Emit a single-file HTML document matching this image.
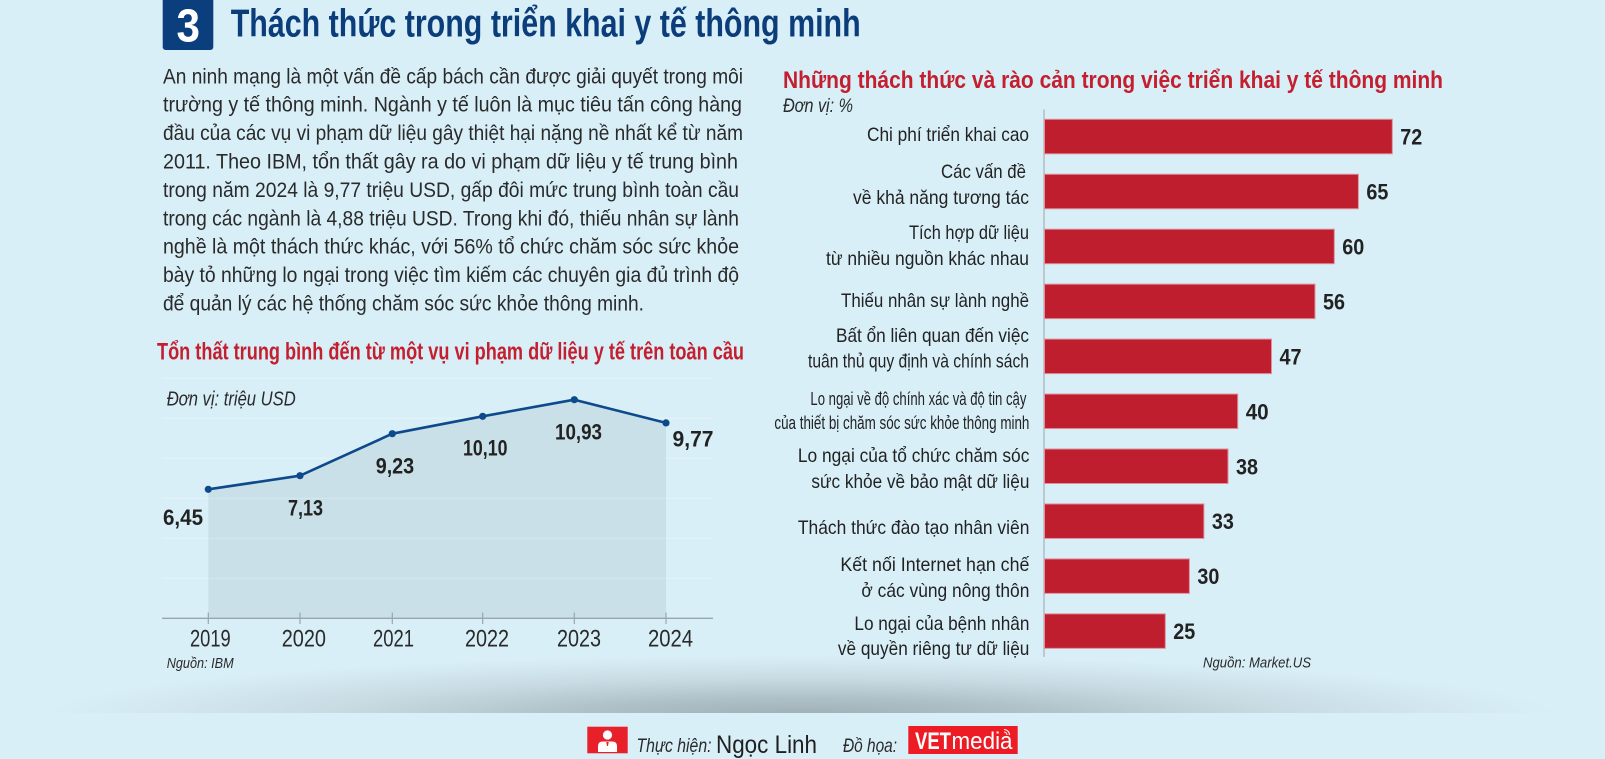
<!DOCTYPE html>
<html><head><meta charset="utf-8"><style>
html,body{margin:0;padding:0;background:#d9eff8;}
svg{display:block;}
text{font-family:"Liberation Sans Narrow","Liberation Sans","DejaVu Sans",sans-serif;}
.p{font-size:21px;fill:#2a2a2a;}
.lb{font-size:19.5px;fill:#222;}
.sm{font-size:18px;fill:#222;}
.v{font-size:22px;font-weight:bold;fill:#222;}
.lv{font-size:22px;font-weight:bold;fill:#222;}
.yr{font-size:24px;fill:#2a2a2a;}
.it{font-style:italic;fill:#2a2a2a;}
.rt{font-size:24.5px;font-weight:bold;fill:#c41f2f;}
</style></head><body>
<svg width="1605" height="759" viewBox="0 0 1605 759" xmlns="http://www.w3.org/2000/svg">
<defs>
<radialGradient id="sh" gradientUnits="userSpaceOnUse" cx="802" cy="716" r="760" gradientTransform="translate(802 716) scale(1 0.08) translate(-802 -716)">
<stop offset="0" stop-color="#9eafb6"/>
<stop offset="0.3" stop-color="#afc1c8"/>
<stop offset="0.62" stop-color="#c8dbe3"/>
<stop offset="1" stop-color="#d9eff8"/>
</radialGradient>
</defs>
<rect width="1605" height="759" fill="#d9eff8"/>
<rect x="0" y="600" width="1605" height="113" fill="url(#sh)"/>

<!-- Header -->
<rect x="162.7" y="-4" width="50.6" height="54" rx="3" fill="#0b3e7d"/>
<text x="176.5" y="41.7" font-size="46" font-weight="bold" fill="#fff" textLength="23.5" lengthAdjust="spacingAndGlyphs">3</text>
<text x="230.7" y="36.7" font-size="39" font-weight="bold" fill="#0c3d7b" textLength="630" lengthAdjust="spacingAndGlyphs">Thách thức trong triển khai y tế thông minh</text>

<!-- Paragraph -->
<text class="p" x="163" y="83.3" textLength="580" lengthAdjust="spacingAndGlyphs">An ninh mạng là một vấn đề cấp bách cần được giải quyết trong môi</text>
<text class="p" x="163" y="111.7" textLength="579" lengthAdjust="spacingAndGlyphs">trường y tế thông minh. Ngành y tế luôn là mục tiêu tấn công hàng</text>
<text class="p" x="163" y="140.1" textLength="580" lengthAdjust="spacingAndGlyphs">đầu của các vụ vi phạm dữ liệu gây thiệt hại nặng nề nhất kể từ năm</text>
<text class="p" x="163" y="168.5" textLength="575" lengthAdjust="spacingAndGlyphs">2011. Theo IBM, tổn thất gây ra do vi phạm dữ liệu y tế trung bình</text>
<text class="p" x="163" y="196.9" textLength="576" lengthAdjust="spacingAndGlyphs">trong năm 2024 là 9,77 triệu USD, gấp đôi mức trung bình toàn cầu</text>
<text class="p" x="163" y="225.3" textLength="576" lengthAdjust="spacingAndGlyphs">trong các ngành là 4,88 triệu USD. Trong khi đó, thiếu nhân sự lành</text>
<text class="p" x="163" y="253.7" textLength="576" lengthAdjust="spacingAndGlyphs">nghề là một thách thức khác, với 56% tổ chức chăm sóc sức khỏe</text>
<text class="p" x="163" y="282.1" textLength="576" lengthAdjust="spacingAndGlyphs">bày tỏ những lo ngại trong việc tìm kiếm các chuyên gia đủ trình độ</text>
<text class="p" x="163" y="310.5" textLength="481" lengthAdjust="spacingAndGlyphs">để quản lý các hệ thống chăm sóc sức khỏe thông minh.</text>

<!-- Line chart -->
<text class="rt" x="157" y="359.3" textLength="587" lengthAdjust="spacingAndGlyphs">Tổn thất trung bình đến từ một vụ vi phạm dữ liệu y tế trên toàn cầu</text>
<g stroke="#e4f3f9" stroke-width="1">
<line x1="162" y1="378.3" x2="713" y2="378.3"/>
<line x1="162" y1="418.3" x2="713" y2="418.3"/>
<line x1="162" y1="458.3" x2="713" y2="458.3"/>
<line x1="162" y1="498.3" x2="713" y2="498.3"/>
<line x1="162" y1="538.3" x2="713" y2="538.3"/>
<line x1="162" y1="578.3" x2="713" y2="578.3"/>
</g>
<polygon points="208.3,489.3 300,475.7 392.3,433.7 482.7,416.3 574.3,399.7 666,422.9 666,618.3 208.3,618.3" fill="#c9e0e9"/>
<g stroke="#d4e8f0" stroke-width="1">
<line x1="208.3" y1="498.3" x2="666" y2="498.3"/>
<line x1="208.3" y1="538.3" x2="666" y2="538.3"/>
<line x1="208.3" y1="578.3" x2="666" y2="578.3"/>
</g>
<line x1="162" y1="618.3" x2="713" y2="618.3" stroke="#9aa6ab" stroke-width="1.3"/>
<g stroke="#9aa6ab" stroke-width="1.2">
<line x1="208.3" y1="612.5" x2="208.3" y2="624"/>
<line x1="300" y1="612.5" x2="300" y2="624"/>
<line x1="392.3" y1="612.5" x2="392.3" y2="624"/>
<line x1="482.7" y1="612.5" x2="482.7" y2="624"/>
<line x1="574.3" y1="612.5" x2="574.3" y2="624"/>
<line x1="666" y1="612.5" x2="666" y2="624"/>
</g>
<polyline points="208.3,489.3 300,475.7 392.3,433.7 482.7,416.3 574.3,399.7 666,422.9" fill="none" stroke="#0e4a8b" stroke-width="2.6" stroke-linejoin="round"/>
<g fill="#0e4a8b">
<circle cx="208.3" cy="489.3" r="3.6"/><circle cx="300" cy="475.7" r="3.6"/><circle cx="392.3" cy="433.7" r="3.6"/>
<circle cx="482.7" cy="416.3" r="3.6"/><circle cx="574.3" cy="399.7" r="3.6"/><circle cx="666" cy="422.9" r="3.6"/>
</g>
<text class="it" x="166.7" y="405.7" font-size="20" textLength="129" lengthAdjust="spacingAndGlyphs">Đơn vị: triệu USD</text>
<text class="lv" x="163" y="524.8" textLength="40" lengthAdjust="spacingAndGlyphs">6,45</text>
<text class="lv" x="288" y="515.5" textLength="35" lengthAdjust="spacingAndGlyphs">7,13</text>
<text class="lv" x="375.7" y="473.5" textLength="38.5" lengthAdjust="spacingAndGlyphs">9,23</text>
<text class="lv" x="463" y="455.5" textLength="44.5" lengthAdjust="spacingAndGlyphs">10,10</text>
<text class="lv" x="555" y="439.5" textLength="47" lengthAdjust="spacingAndGlyphs">10,93</text>
<text class="lv" x="672.5" y="446.5" textLength="41" lengthAdjust="spacingAndGlyphs">9,77</text>
<text class="yr" x="190" y="646.7" textLength="40.7" lengthAdjust="spacingAndGlyphs">2019</text>
<text class="yr" x="281.7" y="646.7" textLength="44.3" lengthAdjust="spacingAndGlyphs">2020</text>
<text class="yr" x="373" y="646.7" textLength="41" lengthAdjust="spacingAndGlyphs">2021</text>
<text class="yr" x="465" y="646.7" textLength="44" lengthAdjust="spacingAndGlyphs">2022</text>
<text class="yr" x="557" y="646.7" textLength="44" lengthAdjust="spacingAndGlyphs">2023</text>
<text class="yr" x="648" y="646.7" textLength="45" lengthAdjust="spacingAndGlyphs">2024</text>
<text class="it" x="166.7" y="668" font-size="15" textLength="67" lengthAdjust="spacingAndGlyphs">Nguồn: IBM</text>

<!-- Bar chart -->
<text class="rt" x="783" y="88" textLength="660" lengthAdjust="spacingAndGlyphs">Những thách thức và rào cản trong việc triển khai y tế thông minh</text>
<text class="it" x="783" y="112" font-size="19" textLength="70" lengthAdjust="spacingAndGlyphs">Đơn vị: %</text>
<line x1="1044" y1="109.5" x2="1044" y2="657" stroke="#9aa6ab" stroke-width="1"/>
<g fill="#be1e2e" stroke="#e0909a" stroke-width="1">
<rect x="1044.5" y="119.3" width="347.8" height="34.5"/>
<rect x="1044.5" y="174.25" width="313.9" height="34.5"/>
<rect x="1044.5" y="229.2" width="289.8" height="34.5"/>
<rect x="1044.5" y="284.15" width="270.5" height="34.5"/>
<rect x="1044.5" y="339.1" width="227" height="34.5"/>
<rect x="1044.5" y="394.05" width="193.2" height="34.5"/>
<rect x="1044.5" y="449" width="183.5" height="34.5"/>
<rect x="1044.5" y="503.95" width="159.4" height="34.5"/>
<rect x="1044.5" y="558.9" width="144.9" height="34.5"/>
<rect x="1044.5" y="613.85" width="120.8" height="34.5"/>
</g>
<text class="v" x="1400.3" y="144.5" textLength="22" lengthAdjust="spacingAndGlyphs">72</text>
<text class="v" x="1366.4" y="199.5" textLength="22" lengthAdjust="spacingAndGlyphs">65</text>
<text class="v" x="1342.3" y="254.5" textLength="22" lengthAdjust="spacingAndGlyphs">60</text>
<text class="v" x="1323" y="309.4" textLength="22" lengthAdjust="spacingAndGlyphs">56</text>
<text class="v" x="1279.5" y="364.3" textLength="22" lengthAdjust="spacingAndGlyphs">47</text>
<text class="v" x="1245.7" y="419.3" textLength="23" lengthAdjust="spacingAndGlyphs">40</text>
<text class="v" x="1236" y="474.3" textLength="22" lengthAdjust="spacingAndGlyphs">38</text>
<text class="v" x="1211.9" y="529.2" textLength="22" lengthAdjust="spacingAndGlyphs">33</text>
<text class="v" x="1197.4" y="584.1" textLength="22" lengthAdjust="spacingAndGlyphs">30</text>
<text class="v" x="1173.3" y="639.1" textLength="22" lengthAdjust="spacingAndGlyphs">25</text>

<g text-anchor="end">
<text class="lb" x="1029" y="141" textLength="162" lengthAdjust="spacingAndGlyphs">Chi phí triển khai cao</text>
<text class="lb" x="1026" y="178" textLength="85" lengthAdjust="spacingAndGlyphs">Các vấn đề</text>
<text class="lb" x="1029" y="204" textLength="176" lengthAdjust="spacingAndGlyphs">về khả năng tương tác</text>
<text class="lb" x="1029" y="239" textLength="120" lengthAdjust="spacingAndGlyphs">Tích hợp dữ liệu</text>
<text class="lb" x="1029" y="265" textLength="203" lengthAdjust="spacingAndGlyphs">từ nhiều nguồn khác nhau</text>
<text class="lb" x="1029" y="307" textLength="188" lengthAdjust="spacingAndGlyphs">Thiếu nhân sự lành nghề</text>
<text class="lb" x="1029" y="342" textLength="193" lengthAdjust="spacingAndGlyphs">Bất ổn liên quan đến việc</text>
<text class="lb" x="1029" y="367.5" textLength="221" lengthAdjust="spacingAndGlyphs">tuân thủ quy định và chính sách</text>
<text class="sm" x="1026.4" y="405" textLength="216" lengthAdjust="spacingAndGlyphs">Lo ngại về độ chính xác và độ tin cậy</text>
<text class="sm" x="1029.4" y="429" textLength="255" lengthAdjust="spacingAndGlyphs">của thiết bị chăm sóc sức khỏe thông minh</text>
<text class="lb" x="1029.4" y="462" textLength="231.5" lengthAdjust="spacingAndGlyphs">Lo ngại của tổ chức chăm sóc</text>
<text class="lb" x="1029.4" y="488" textLength="218" lengthAdjust="spacingAndGlyphs">sức khỏe về bảo mật dữ liệu</text>
<text class="lb" x="1029.4" y="534" textLength="231.5" lengthAdjust="spacingAndGlyphs">Thách thức đào tạo nhân viên</text>
<text class="lb" x="1029.4" y="571" textLength="189" lengthAdjust="spacingAndGlyphs">Kết nối Internet hạn chế</text>
<text class="lb" x="1029.4" y="597" textLength="168" lengthAdjust="spacingAndGlyphs">ở các vùng nông thôn</text>
<text class="lb" x="1029.4" y="630" textLength="175" lengthAdjust="spacingAndGlyphs">Lo ngại của bệnh nhân</text>
<text class="lb" x="1029.4" y="655" textLength="191.5" lengthAdjust="spacingAndGlyphs">về quyền riêng tư dữ liệu</text>
</g>
<text class="it" x="1203" y="667.5" font-size="15" textLength="108" lengthAdjust="spacingAndGlyphs">Nguồn: Market.US</text>

<!-- Footer -->
<rect x="587.3" y="726.7" width="40.4" height="26.6" fill="#e8202a"/>
<circle cx="607.5" cy="735" r="4.6" fill="#fff"/>
<path d="M598 752 L598 746 Q598 741.5 603 741.5 L612 741.5 Q617 741.5 617 746 L617 752 Z" fill="#fff"/>
<path d="M606.3 742 L608.7 742 L608 746 L607 746 Z" fill="#e8202a"/>
<text class="it" x="636.5" y="752" font-size="19" textLength="75" lengthAdjust="spacingAndGlyphs">Thực hiện:</text>
<text x="716" y="753" font-size="25" fill="#1f1f1f" textLength="101" lengthAdjust="spacingAndGlyphs">Ngọc Linh</text>
<text class="it" x="843" y="752" font-size="19" textLength="54" lengthAdjust="spacingAndGlyphs">Đồ họa:</text>
<rect x="908.3" y="726" width="109.4" height="28" fill="#ed1c24"/>
<text x="915" y="749" font-size="24" font-weight="bold" fill="#fff" textLength="36" lengthAdjust="spacingAndGlyphs">VET</text>
<text x="951.5" y="749" font-size="24" fill="#fff" textLength="61" lengthAdjust="spacingAndGlyphs">media</text>
<path d="M1004 732 a3 3 0 0 1 3 3 M1004 729.5 a5.5 5.5 0 0 1 5.5 5.5" fill="none" stroke="#fff" stroke-width="1"/>
</svg>
</body></html>
